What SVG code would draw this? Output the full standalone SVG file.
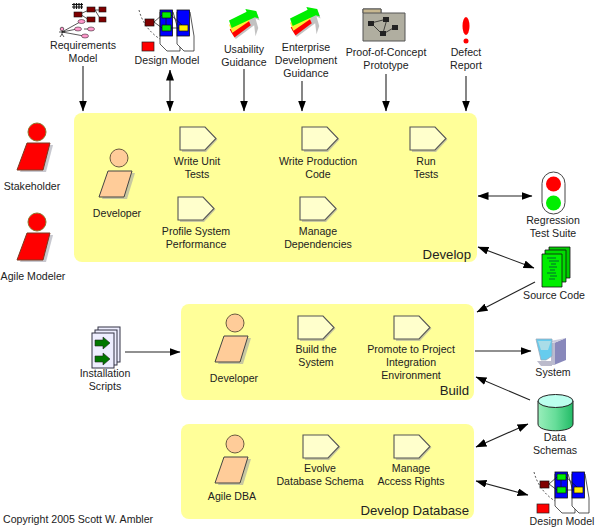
<svg xmlns="http://www.w3.org/2000/svg" xmlns:xlink="http://www.w3.org/1999/xlink" width="595" height="528" viewBox="0 0 595 528">
<style>
text{font-family:"Liberation Sans",Arial,sans-serif;font-size:10.6px;fill:#222;text-anchor:middle}
.big{font-size:13.2px;text-anchor:end}
.panel{fill:#ffff99}
.cn{stroke:#222;stroke-width:1.1;fill:none;marker-end:url(#ah)}
.bi{marker-start:url(#ahs)}
.act{fill:#ffffcc;stroke:#555;stroke-width:1.1}
.sh{fill:#9a9aa8;opacity:.55}
.ln{stroke:#111;stroke-width:.7;fill:none}
</style>
<defs>
<linearGradient id="cyl" x1="0" x2="1" y1="0" y2="0"><stop offset="0" stop-color="#99eebb"/><stop offset=".5" stop-color="#66dd99"/><stop offset="1" stop-color="#22bb66"/></linearGradient>
<marker id="ah" viewBox="0 0 11 8" refX="10.500" refY="4" markerWidth="11" markerHeight="8" markerUnits="userSpaceOnUse" orient="auto"><path d="M0 0L11 4L0 8Z" fill="#000"/></marker>
<marker id="ahs" viewBox="0 0 11 8" refX="0.500" refY="4" markerWidth="11" markerHeight="8" markerUnits="userSpaceOnUse" orient="auto"><path d="M11 0L0 4L11 8Z" fill="#000"/></marker>
<g id="activity"><path class="sh" d="M2 2H26L37.500 12.500L26 25H2Z"/><path class="act" d="M0 0H25L36 11.500L25 23H0Z"/></g>
<g id="person-red"><path d="M13 22H36L29 49H3Z" class="sh"/><circle cx="20" cy="9" r="9" fill="#ff0000" stroke="#8a7a30"/><path d="M10 20H33L26 47H0Z" fill="#ff0000" stroke="#7a3a20"/></g>
<g id="person-tan"><path d="M12 24H36L28 50H3Z" class="sh"/><circle cx="20" cy="9" r="9" fill="#ffcc99" stroke="#6a5a40"/><path d="M9 22H33L25 48H0Z" fill="#ffcc99" stroke="#444"/></g>
<g id="arrow3" transform="scale(.68)"><path d="M3 20L27 7L25 1L40 4L45 17L39 14L43 28L39 40L37 24L10 44L3 34Z" fill="#999" opacity=".6"/><path d="M1 30L28 15L32 24L8 42Z" fill="#ff0000"/><path d="M0 23L28 9L31 17L5 35Z" fill="#ffee33"/><path d="M0 17L26 4L24 0L40 3L44 14L38 12L4 28Z" fill="#00ee00"/></g>
<g id="design">
<path d="M0 0C6 24 28 37 48 37" class="ln" stroke-dasharray="2 2"/>
<path d="M21 2H34L41 26V41H28L21 34Z" fill="#fff" stroke="#111" stroke-width=".7"/>
<path d="M38 2H51L55 26V41H45L38 34Z" fill="#fff" stroke="#111" stroke-width=".7"/>
<rect x="21" y="0" width="12.500" height="26" fill="#0000ff" stroke="#111" stroke-width=".8"/>
<rect x="38" y="0" width="12.500" height="26" fill="#0000ff" stroke="#111" stroke-width=".8"/>
<path d="M15 12L23 5M15 12L23 18M27 8V15M32 18H40M32 5L44 16" class="ln"/>
<rect x="6" y="9" width="9" height="7" fill="#800000" stroke="#111" stroke-width=".7"/>
<rect x="23" y="2" width="9" height="6" fill="#00ee00" stroke="#111" stroke-width=".7"/>
<rect x="23" y="15" width="9" height="6" fill="#00ee00" stroke="#111" stroke-width=".7"/>
<rect x="40" y="15" width="9" height="6" fill="#ffee00" stroke="#111" stroke-width=".7"/>
<rect x="3" y="32" width="12" height="9" fill="#ff0000" stroke="#222" stroke-width=".7"/>
</g>
</defs>

<rect id="panel-develop" class="panel" x="74" y="113" width="403" height="149" rx="8"/>
<rect id="panel-build" class="panel" x="181" y="304" width="293" height="96" rx="8"/>
<rect id="panel-database" class="panel" x="181" y="424" width="293" height="95" rx="8"/>

<g id="connectors">
<path class="cn" d="M83 66V111"/>
<path class="cn bi" d="M170 70V111"/>
<path class="cn" d="M244 69V111"/>
<path class="cn" d="M302 81V111"/>
<path class="cn" d="M386 74V111"/>
<path class="cn" d="M466 76V111"/>
<path class="cn bi" d="M478 196H532"/>
<path class="cn bi" d="M478 247L534 268"/>
<path class="cn" d="M535 282L477 312"/>
<path class="cn" d="M125 352H180"/>
<path class="cn" d="M475 351H531"/>
<path class="cn" d="M530 400L476 377"/>
<path class="cn bi" d="M476 447L528 424"/>
<path class="cn bi" d="M476 481L528 495"/>
</g>

<g id="requirements-model">
<path d="M74 3V9M76.500 3V9M79 3V9M81.500 3V9" stroke="#111" stroke-width="1.200" fill="none"/>
<path d="M72 4.500h11M72 7h11" stroke="#111" stroke-width="1"/>
<path d="M80 14L89 10M80 14L89 20M95 10L100 10M95 10L101 20" class="ln"/>
<rect x="74" y="12" width="8" height="5" fill="#800000" stroke="#111" stroke-width=".6"/>
<rect x="87" y="7" width="8" height="5" fill="#800000" stroke="#111" stroke-width=".6"/>
<rect x="87" y="17" width="8" height="5" fill="#800000" stroke="#111" stroke-width=".6"/>
<rect x="99" y="7" width="7" height="5" fill="#800000" stroke="#111" stroke-width=".6"/>
<rect x="99" y="17" width="7" height="5" fill="#800000" stroke="#111" stroke-width=".6"/>
<path d="M62 32L80 22M62 32L77 29M62 32L84 36M84 29H88" class="ln"/>
<circle cx="62" cy="29" r="1.800" fill="#ff99cc" stroke="#111" stroke-width=".6"/>
<path d="M62 31V34M59 32H65M62 34L60 37M62 34L64 37" class="ln"/>
<ellipse cx="81.500" cy="21.500" rx="3.500" ry="2" fill="#ff99cc" stroke="#111" stroke-width=".5"/>
<ellipse cx="78" cy="29" rx="3.500" ry="2" fill="#ff99cc" stroke="#111" stroke-width=".5"/>
<ellipse cx="91" cy="29" rx="3.500" ry="2" fill="#ff99cc" stroke="#111" stroke-width=".5"/>
<ellipse cx="85" cy="36" rx="3.500" ry="2" fill="#ff99cc" stroke="#111" stroke-width=".5"/>
<text x="83" y="49">Requirements</text><text x="83" y="62">Model</text>
</g>
<g id="design-model-top"><use xlink:href="#design" href="#design" x="139" y="10"/><text x="167" y="64">Design Model</text></g>
<g id="usability-guidance"><g transform="translate(229 9)"><use xlink:href="#arrow3" href="#arrow3"/></g><text x="244" y="53">Usability</text><text x="244" y="66">Guidance</text></g>
<g id="enterprise-guidance"><g transform="translate(290 7)"><use xlink:href="#arrow3" href="#arrow3"/></g><text x="306" y="51">Enterprise</text><text x="306" y="64">Development</text><text x="306" y="77">Guidance</text></g>
<g id="prototype">
<path d="M363 9H381V13H405V41H363Z" fill="#b0aea0" stroke="#555"/><path d="M363 9H381V13H363Z" fill="#c8b890" stroke="#555"/>
<path d="M371 23L387 19M371 23L382 34M387 19L383 33M383 34L395 27" class="ln" stroke="#333"/>
<rect x="368" y="21" width="6" height="5" fill="#222"/><rect x="383" y="17" width="6" height="5" fill="#222"/><rect x="380" y="31" width="6" height="5" fill="#222"/><rect x="392" y="25" width="6" height="5" fill="#222"/>
<text x="386" y="56">Proof-of-Concept</text><text x="386" y="69">Prototype</text>
</g>
<g id="defect-report"><ellipse cx="466" cy="26" rx="3.500" ry="9" fill="#ff0000"/><circle cx="466" cy="41" r="2.500" fill="#ff0000"/><text x="466" y="56">Defect</text><text x="466" y="69">Report</text></g>

<g id="stakeholder"><use xlink:href="#person-red" href="#person-red" x="17" y="123"/><text x="32" y="190">Stakeholder</text></g>
<g id="agile-modeler"><use xlink:href="#person-red" href="#person-red" x="17" y="213"/><text x="33" y="280">Agile Modeler</text></g>

<g id="developer-1"><use xlink:href="#person-tan" href="#person-tan" x="99" y="149"/><text x="117" y="217">Developer</text></g>
<g id="write-unit-tests"><use xlink:href="#activity" href="#activity" x="180" y="127"/><text x="197" y="165">Write Unit</text><text x="197" y="178">Tests</text></g>
<g id="profile-system"><use xlink:href="#activity" href="#activity" x="178" y="197"/><text x="196" y="235">Profile System</text><text x="196" y="248">Performance</text></g>
<g id="write-production"><use xlink:href="#activity" href="#activity" x="302" y="127"/><text x="318" y="165">Write Production</text><text x="318" y="178">Code</text></g>
<g id="manage-dependencies"><use xlink:href="#activity" href="#activity" x="300" y="197"/><text x="318" y="235">Manage</text><text x="318" y="248">Dependencies</text></g>
<g id="run-tests"><use xlink:href="#activity" href="#activity" x="410" y="127"/><text x="426" y="165">Run</text><text x="426" y="178">Tests</text></g>
<text class="big" x="471" y="259">Develop</text>

<g id="installation-scripts">
<rect x="98" y="327" width="22" height="35" fill="#eef" stroke="#334"/>
<rect x="95" y="330" width="22" height="35" fill="#eef" stroke="#334"/>
<rect x="92" y="333" width="22" height="35" fill="#eef" stroke="#334"/>
<path d="M95 340H103V337L110 343L103 349V346H95Z" fill="#007700" stroke="#222" stroke-width=".6"/>
<path d="M95 356H103V353L110 359L103 365V362H95Z" fill="#007700" stroke="#222" stroke-width=".6"/>
<text x="105" y="377">Installation</text><text x="105" y="390">Scripts</text>
</g>

<g id="developer-2"><use xlink:href="#person-tan" href="#person-tan" x="215" y="314"/><text x="234" y="382">Developer</text></g>
<g id="build-system"><use xlink:href="#activity" href="#activity" x="298" y="316"/><text x="316" y="353">Build the</text><text x="316" y="366">System</text></g>
<g id="promote"><use xlink:href="#activity" href="#activity" x="394" y="316"/><text x="411" y="353">Promote to Project</text><text x="411" y="366">Integration</text><text x="411" y="379">Environment</text></g>
<text class="big" x="469" y="395">Build</text>

<g id="agile-dba"><use xlink:href="#person-tan" href="#person-tan" x="215" y="435"/><text x="232" y="500">Agile DBA</text></g>
<g id="evolve-schema"><use xlink:href="#activity" href="#activity" x="303" y="435"/><text x="320" y="472">Evolve</text><text x="320" y="485">Database Schema</text></g>
<g id="manage-access"><use xlink:href="#activity" href="#activity" x="394" y="435"/><text x="411" y="472">Manage</text><text x="411" y="485">Access Rights</text></g>
<text class="big" x="469" y="515">Develop Database</text>

<g id="regression-suite">
<rect x="542" y="172" width="23" height="42" rx="11.500" fill="#fff" stroke="#444"/>
<circle cx="553.500" cy="184" r="7.500" fill="#ff0000"/><circle cx="553.500" cy="203" r="7.500" fill="#00ee00"/>
<text x="553" y="224">Regression</text><text x="553" y="237">Test Suite</text>
</g>
<g id="source-code">
<path d="M549 247H570V278H549Z" fill="#00cc00" stroke="#111" stroke-width=".8"/>
<path d="M545 250H566V282H545Z" fill="#00dd00" stroke="#111" stroke-width=".8"/>
<path d="M542 254H562V287H542Z" fill="#00ee00" stroke="#111" stroke-width=".8"/>
<path d="M547 258H556M549 261H559M551 264H556M549 267H557M550 270H555M547 273H556M550 276H557M549 279H555" stroke="#063" stroke-width="1"/>
<text x="554" y="299">Source Code</text>
</g>
<g id="system">
<path d="M554 343L566 338V360L554 365Z" fill="#8888bb"/><path d="M550 341L566 338L554 343Z" fill="#ccccdd"/><path d="M551 343H555V365H551Z" fill="#bbbbd0"/>
<path d="M536 339H552V356L546 360H541Z" fill="#66ccee" stroke="#99aabb" stroke-width=".8"/><path d="M538 341H551L548 350H541Z" fill="#aadde8"/>
<path d="M537 361H552V366H541Z" fill="#bbbbcc"/>
<text x="553" y="376">System</text>
</g>
<g id="data-schemas">
<path d="M538 401V424C538 433 573 433 573 424V401Z" fill="url(#cyl)" stroke="#222"/>
<ellipse cx="555.500" cy="401" rx="17.500" ry="6.500" fill="#bbffee" stroke="#222"/>
<text x="555" y="441">Data</text><text x="555" y="454">Schemas</text>
</g>
<g id="design-model-bottom"><use xlink:href="#design" href="#design" x="534" y="472"/><text x="562" y="525">Design Model</text></g>
<text style="text-anchor:start" x="3" y="523">Copyright 2005 Scott W. Ambler</text>
</svg>
